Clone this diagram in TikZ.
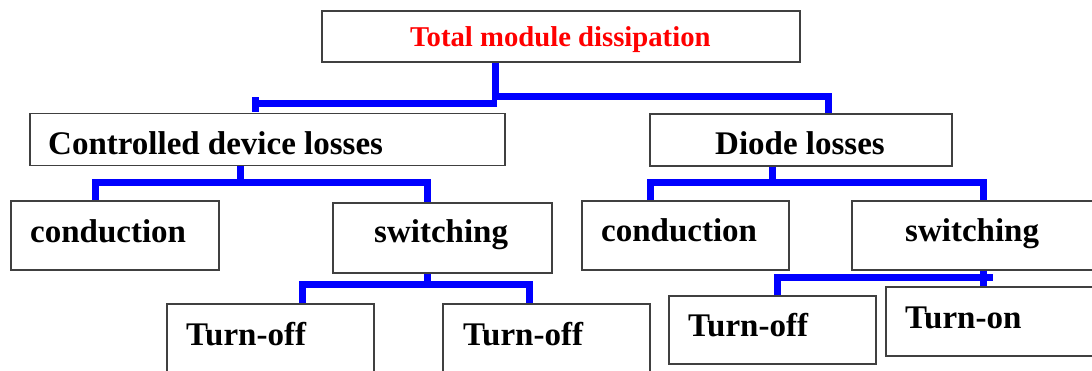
\documentclass[tikz,border=0pt]{standalone}
\usepackage{fontspec}
\setmainfont{Liberation Serif}
\begin{document}
\begin{tikzpicture}[x=1pt,y=-1pt,
  box/.style={draw=black!75,line width=1.3pt,rectangle,inner sep=0pt},
  conn/.style={draw={rgb,255:red,0;green,0;blue,255},line width=7pt},
  lbl/.style={anchor=base west,inner sep=0pt,font=\fontsize{33}{36}\selectfont\bfseries},
  ttl/.style={anchor=base west,inner sep=0pt,text={rgb,255:red,255;green,0;blue,0},font=\fontsize{28.7}{32}\selectfont\bfseries}]
\clip (0,0) rectangle (1092,371);
\fill[white] (0,0) rectangle (1092,371);
% boxes
\node[box,minimum width=478pt,minimum height=51pt] (top) at (561,36.5) {};
\node[box,minimum width=475pt,minimum height=52pt] (cdl) at (267.5,139.5) {};
\node[box,minimum width=302pt,minimum height=52pt] (dl) at (801,140) {};
\node[box,minimum width=208pt,minimum height=69pt] (c1) at (115,235.5) {};
\node[box,minimum width=219pt,minimum height=70pt] (s1) at (442.5,238) {};
\node[box,minimum width=207pt,minimum height=86pt] (to1) at (270.5,347) {};
\node[box,minimum width=207pt,minimum height=86pt] (to2) at (546.5,347) {};
\node[box,minimum width=207pt,minimum height=69pt] (c2) at (685.5,235.5) {};
\node[box,minimum width=248pt,minimum height=69pt] (s2) at (976,235.5) {};
\node[box,minimum width=207pt,minimum height=68pt] (to3) at (772.5,330) {};
\node[box,minimum width=214pt,minimum height=69pt] (ton) at (993,321.5) {};
% labels
\node[ttl] (ttop) at (410,47) {Total module dissipation};
\node[lbl] (tcdl) at (48,155) {Controlled device losses};
\node[lbl] (tdl) at (715,155) {Diode losses};
\node[lbl] (tc1) at (30,243) {conduction};
\node[lbl] (ts1) at (374,243) {switching};
\node[lbl] (tto1) at (186,345) {Turn-off};
\node[lbl] (tto2) at (463,345) {Turn-off};
\node[lbl] (tc2) at (601,242) {conduction};
\node[lbl] (ts2) at (905,242) {switching};
\node[lbl] (tto3) at (688,336) {Turn-off};
\node[lbl] (tton) at (905,328) {Turn-on};
% junction coordinates
\coordinate (jt) at (495,97);
\coordinate (jtl) at (497,104);
\coordinate (jl) at (255,104);
\coordinate (xd) at (828,0);
\coordinate (jc) at (240,183);
\coordinate (x95) at (95,0);
\coordinate (x427) at (427,0);
\coordinate (js1) at (427,285);
\coordinate (x302) at (302,0);
\coordinate (x529) at (529,0);
\coordinate (jd) at (772,183);
\coordinate (x650) at (650,0);
\coordinate (x983) at (983,0);
\coordinate (js2) at (983,278);
\coordinate (js2e) at (993,278);
\coordinate (x777) at (777,0);
% connectors
\draw[conn] (top.south -| jt) -- (jt) -| (dl.north -| xd);
\draw[conn] (jtl) -- (jl);
\draw[conn] ([yshift=-8pt]jl) -- ([yshift=7pt]jl);
\draw[conn] (cdl.south -| jc) -- (jc);
\draw[conn] (c1.north -| x95) |- (jc) -| (s1.north -| x427);
\draw[conn] (s1.south -| js1) -- (js1);
\draw[conn] (to1.north -| x302) |- (js1) -| (to2.north -| x529);
\draw[conn] (dl.south -| jd) -- (jd);
\draw[conn] (c2.north -| x650) |- (jd) -| (s2.north -| x983);
\draw[conn] (s2.south -| js2) -- (ton.north -| js2);
\draw[conn] (to3.north -| x777) |- (js2e);
\end{tikzpicture}
\end{document}
